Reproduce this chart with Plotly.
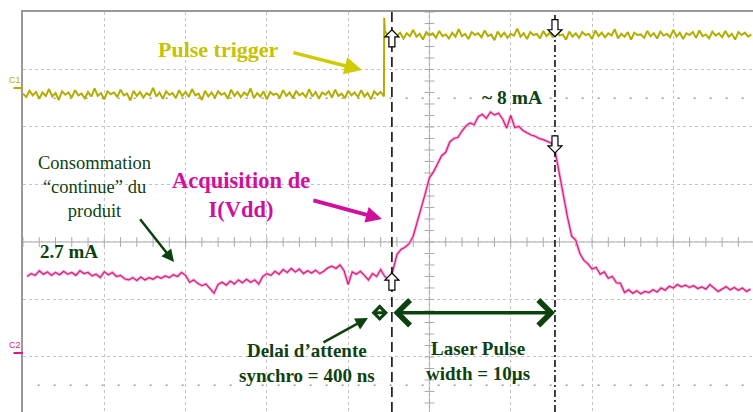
import numpy as np
import plotly.graph_objects as go

# ---------------- data (time in µs, 5 µs/div ; level in divisions) ----------------
# C1 : pulse trigger (noisy logic level)
YEL_LOW = [2.58,2.52,2.63,2.55,2.61,2.49,2.60,2.54,2.66,2.53,2.59,2.47,2.62,2.56,2.60,2.51,2.64,2.55,2.58,2.50,
           2.61,2.53,2.67,2.54,2.59,2.48,2.62,2.57,2.60,2.52,2.65,2.55,2.58,2.46,2.63,2.54,2.61,2.51,2.59,2.55,
           2.68,2.53,2.60,2.49,2.62,2.56,2.59,2.50,2.64,2.54,2.61,2.52,2.66,2.55,2.58,2.47,2.63,2.53,2.60,2.51,
           2.62,2.56,2.59,2.49,2.65,2.54,2.61,2.52,2.60,2.55,2.67,2.50,2.59,2.53,2.62,2.48,2.61,2.56,2.58,2.51,
           2.64,2.54,2.60,2.50,2.63,2.55,2.59,2.52,2.66,2.53,2.61,2.49,2.60,2.56,2.62,2.51,2.65,2.54,2.58,2.50,
           2.63,2.55,2.60,2.52,2.64,2.53,2.59,2.48,2.62,2.56,2.61,2.53]
YEL_SPIKE_T = [22.22, 22.26]
YEL_SPIKE_V = [3.90, 3.66]
YEL_HIGH = [3.62,3.57,3.66,3.59,3.64,3.54,3.63,3.58,3.69,3.57,3.62,3.52,3.65,3.60,3.63,3.55,3.67,3.58,3.61,3.54,
            3.64,3.57,3.70,3.58,3.62,3.53,3.65,3.60,3.63,3.56,3.68,3.58,3.61,3.51,3.66,3.57,3.64,3.55,3.62,3.59,
            3.71,3.57,3.63,3.53,3.65,3.60,3.62,3.54,3.67,3.58,3.64,3.56,3.69,3.59,3.61,3.52,3.66,3.57,3.63,3.55,
            3.65,3.60,3.62,3.53,3.68,3.58,3.64,3.56,3.63,3.59,3.70,3.54,3.62,3.57,3.65,3.52,3.64,3.60,3.61,3.55,
            3.67,3.58,3.63,3.54,3.66,3.59,3.62,3.56,3.69,3.57,3.64,3.53,3.63,3.60,3.65,3.55,3.68,3.58,3.61,3.54,
            3.66,3.59,3.63,3.56,3.67,3.57,3.62,3.52,3.65,3.60,3.64,3.57,3.61]
YEL_DT = 0.2
YEL_HIGH_T0 = 22.4

# C2 : I(Vdd) acquisition, sampled every 0.25 µs starting at 0.25 µs
C2_DT = 0.25
C2_V = [-0.60,-0.55,-0.58,-0.50,-0.56,-0.52,-0.58,-0.53,-0.57,-0.51,-0.56,-0.53,-0.58,-0.50,-0.55,-0.53,-0.59,-0.56,-0.62,-0.52,
        -0.57,-0.53,-0.60,-0.58,-0.64,-0.66,-0.62,-0.67,-0.61,-0.66,-0.62,-0.65,-0.60,-0.63,-0.59,-0.62,-0.57,-0.60,-0.53,-0.58,
        -0.70,-0.66,-0.72,-0.76,-0.73,-0.82,-0.89,-0.74,-0.70,-0.75,-0.68,-0.73,-0.66,-0.71,-0.65,-0.70,-0.66,-0.73,-0.60,-0.55,
        -0.58,-0.51,-0.56,-0.48,-0.53,-0.46,-0.52,-0.47,-0.55,-0.50,-0.54,-0.49,-0.55,-0.51,-0.45,-0.42,-0.46,-0.40,-0.50,-0.74,
        -0.52,-0.56,-0.51,-0.58,-0.66,-0.55,-0.60,-0.48,-0.60,-0.66,-0.50,-0.22,-0.13,-0.09,-0.03,0.10,0.34,0.58,0.85,1.12,
        1.22,1.36,1.50,1.56,1.74,1.80,1.82,1.93,2.02,2.07,2.04,2.18,2.22,2.15,2.26,2.21,2.24,2.14,1.98,2.20,
        1.99,2.01,1.94,1.90,1.86,1.84,1.80,1.78,1.75,1.72,1.55,1.15,0.80,0.42,0.10,0.03,-0.20,-0.32,-0.38,-0.47,
        -0.44,-0.56,-0.52,-0.63,-0.60,-0.71,-0.72,-0.88,-0.83,-0.89,-0.85,-0.90,-0.86,-0.88,-0.83,-0.87,-0.80,-0.84,-0.77,-0.80,
        -0.74,-0.78,-0.75,-0.79,-0.76,-0.81,-0.78,-0.82,-0.74,-0.80,-0.86,-0.82,-0.78,-0.83,-0.79,-0.84,-0.80,-0.86,-0.82]

# cursors (µs) and horizontal cursor levels (div)
CURSOR_T = [22.69, 32.72]
HCURSOR_V = [2.50, -2.49]
# cursor / trace intersection markers : (time, level, direction)
CURSOR_MARKS = [(22.69, 3.69, "up"), (22.69, -0.54, "up"), (32.72, 3.57, "down"), (32.72, 1.55, "down")]
# channel offsets
C1_LEVEL = 2.68
C2_LEVEL = -1.93

X_MAX = 44.9
Y_MIN, Y_MAX = -2.957, 4.0

YEL = "#b3ad00"
YEL_TXT = "#c6c200"
PINK = "#d81b80"
MAG_TXT = "#d0109c"
GREEN = "#0d420f"
SERIF = "Liberation Serif"

# ---------------- traces ----------------
t_low = YEL_DT * np.arange(len(YEL_LOW))
t_high = YEL_HIGH_T0 + YEL_DT * np.arange(len(YEL_HIGH))
yel_t = np.concatenate([t_low, YEL_SPIKE_T, t_high])
yel_v = np.concatenate([YEL_LOW, YEL_SPIKE_V, YEL_HIGH])
c2_t = C2_DT * (1 + np.arange(len(C2_V)))

fig = go.Figure()

# center-line ticks
hx = np.arange(0, X_MAX, 1.0)
fig.add_trace(go.Scatter(x=hx, y=np.zeros_like(hx), mode="markers", hoverinfo="skip",
                         marker=dict(symbol="line-ns", size=7, line=dict(width=1, color="#aaaaaa"))))
vy = np.arange(-3, 4.01, 0.2)
fig.add_trace(go.Scatter(x=np.full_like(vy, 25.0), y=vy, mode="markers", hoverinfo="skip",
                         marker=dict(symbol="line-ew", size=7, line=dict(width=1, color="#aaaaaa"))))

fig.add_trace(go.Scatter(x=yel_t, y=yel_v, mode="lines", line=dict(color=YEL, width=2), hoverinfo="skip"))
fig.add_trace(go.Scatter(x=c2_t, y=C2_V, mode="lines", line=dict(color="#f4b3d6", width=3), hoverinfo="skip"))
fig.add_trace(go.Scatter(x=c2_t, y=C2_V, mode="lines", line=dict(color=PINK, width=1.2), hoverinfo="skip"))

shapes = []
# center lines
shapes.append(dict(type="line", xref="x", yref="y", x0=0, x1=X_MAX, y0=0, y1=0,
                   line=dict(color="#aaaaaa", width=1.2), layer="below"))
shapes.append(dict(type="line", xref="x", yref="y", x0=25, x1=25, y0=Y_MIN, y1=Y_MAX,
                   line=dict(color="#aaaaaa", width=1.2), layer="below"))
# horizontal cursors (sparse dots)
for v in HCURSOR_V:
    shapes.append(dict(type="line", xref="x", yref="y", x0=0.9, x1=X_MAX, y0=v, y1=v,
                       line=dict(color="#9a9a9a", width=1.5, dash="2px,14px"), layer="below"))
# vertical cursors
dashes = ["10px,5px", "7px,3px,2px,3px"]
for t, d in zip(CURSOR_T, dashes):
    shapes.append(dict(type="line", xref="x", yref="y", x0=t, x1=t, y0=Y_MIN, y1=Y_MAX,
                       line=dict(color="black", width=1.5, dash=d)))

# hollow arrow markers
PX_T = 5 / 81.3   # µs per pixel
PX_V = 1 / 57.5   # div per pixel
arrow_px = [(0, 0), (7, 7), (3, 7), (3, 17), (-3, 17), (-3, 7), (-7, 7)]
for t, v, d in CURSOR_MARKS:
    sgn = -1 if d == "up" else 1
    pts = [(t + dx * PX_T, v + sgn * dy * PX_V) for dx, dy in arrow_px]
    path = "M " + " L ".join(f"{a:.4f},{b:.4f}" for a, b in pts) + " Z"
    shapes.append(dict(type="path", xref="x", yref="y", path=path,
                       fillcolor="white", line=dict(color="black", width=1.2)))

ann = []
def txt(x, y, text, size, color, bold=True, family=SERIF):
    ann.append(dict(x=x, y=y, xref="x", yref="y", text=f"<b>{text}</b>" if bold else text,
                    showarrow=False, font=dict(family=family, size=size, color=color),
                    xanchor="center", yanchor="middle", align="center"))

def arr(x0, y0, x1, y1, color, width, head=2, size=1.0, side="end"):
    ann.append(dict(x=x1, y=y1, ax=x0, ay=y0, xref="x", yref="y", axref="x", ayref="y",
                    text="", showarrow=True, arrowhead=head, arrowsize=size, arrowwidth=width,
                    arrowcolor=color, arrowside=side, startarrowhead=head, startarrowsize=size))

txt(12.0, 3.34, "Pulse trigger", 22, YEL_TXT)
arr(16.54, 3.30, 20.85, 2.99, "#cfcb00", 3.5, head=2, size=1.0)

txt(30.07, 2.52, "~ 8 mA", 19.5, GREEN)

txt(4.37, 0.96, "Consommation<br>“continue” du<br>produit", 18.5, GREEN, bold=False)
arr(7.13, 0.42, 9.29, -0.35, GREEN, 2.5, head=2, size=1.0)

txt(2.83, -0.17, "2.7 mA", 19, GREEN)

txt(13.4, 0.82, "Acquisition de<br>I(Vdd)", 22.5, MAG_TXT)
arr(17.77, 0.73, 22.08, 0.40, MAG_TXT, 4, head=2, size=0.8)

# measurement arrows
arr(CURSOR_T[0], -1.23, CURSOR_T[1], -1.23, GREEN, 3.5, head=4, size=1.4, side="end+start")
arr(21.34, -1.23, 22.45, -1.23, GREEN, 3, head=4, size=0.9, side="end+start")
arr(18.39, -1.76, 21.22, -1.32, GREEN, 2.5, head=2, size=1.0)

txt(17.47, -2.10, "Delai d’attente<br>synchro = 400 ns", 19, GREEN)
txt(27.98, -2.07, "Laser Pulse<br>width = 10µs", 19, GREEN)

# channel markers
for lvl, lab, col in [(C1_LEVEL, "C1", YEL), (C2_LEVEL, "C2", PINK)]:
    ann.append(dict(x=0, y=lvl, xref="x", yref="y", ax=-11, ay=0, text="", showarrow=True,
                    arrowhead=0, arrowwidth=2, arrowcolor=col))
    ann.append(dict(x=-0.011, y=lvl + 0.13, xref="paper", yref="y", text=lab, showarrow=False,
                    font=dict(family="Liberation Sans", size=9, color=col),
                    xanchor="center", yanchor="middle"))

fig.update_layout(
    width=753, height=412,
    margin=dict(l=23, r=0, t=12, b=0),
    paper_bgcolor="white", plot_bgcolor="white",
    showlegend=False,
    shapes=shapes, annotations=ann,
    xaxis=dict(range=[0, X_MAX], side="top", showline=True, linecolor="#999999", linewidth=1.5,
               showgrid=True, dtick=5, tick0=0, griddash="dot", gridcolor="#c4c4c4", gridwidth=1,
               showticklabels=False, ticks="", zeroline=False, fixedrange=True),
    yaxis=dict(range=[Y_MIN, Y_MAX], showline=True, linecolor="#999999", linewidth=1.5,
               showgrid=True, dtick=1, tick0=0, griddash="dot", gridcolor="#c4c4c4", gridwidth=1,
               showticklabels=False, ticks="", zeroline=False, fixedrange=True),
)

fig.write_html("out.html")
